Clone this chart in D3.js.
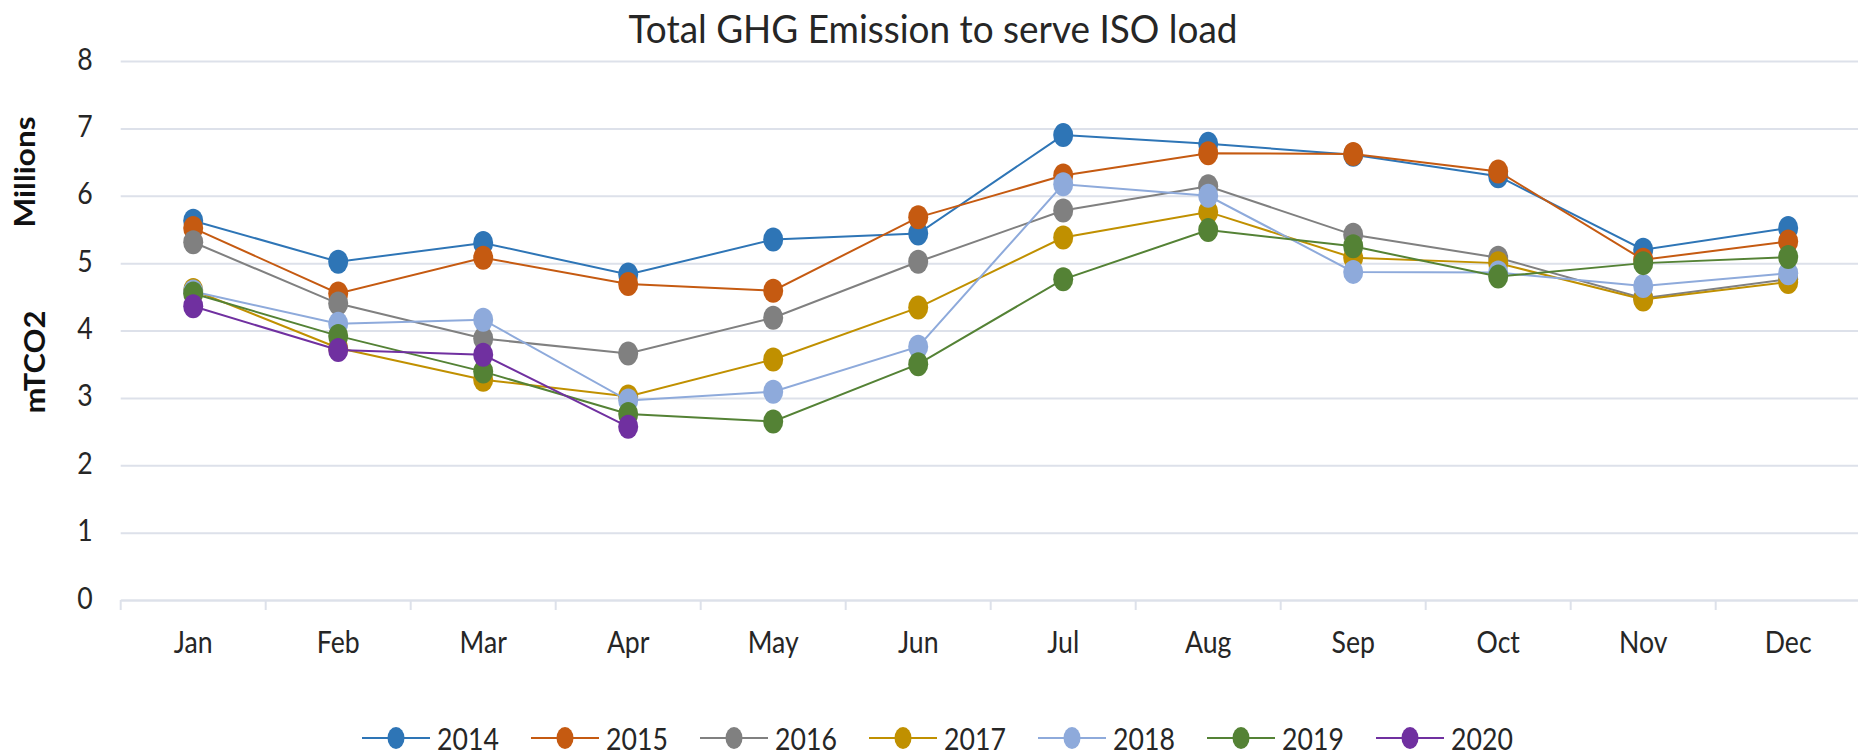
<!DOCTYPE html>
<html>
<head>
<meta charset="utf-8">
<script src="https://cdn.jsdelivr.net/npm/d3@7"></script>
<style>
	body { margin: 0; background: #ffffff; }
	svg { display: block; }
</style>
</head>
<body>
<div id="myLine"></div>
<script>
// color definitions
var bcolor = '#ffffff';
var tcolor = '#262626';
var gridcolor = '#dde1ea';
var font = "Lato";

// data
var months = ['Jan', 'Feb', 'Mar', 'Apr', 'May', 'Jun', 'Jul', 'Aug', 'Sep', 'Oct', 'Nov', 'Dec'];
var years = ['2014', '2015', '2016', '2017', '2018', '2019', '2020'];
var yearColors = ['#2e75b6', '#c55a11', '#808080', '#c09000', '#8eaadb', '#548235', '#7030a0'];
var yTicks = [0, 1, 2, 3, 4, 5, 6, 7, 8];

var e2014 = [5.63, 5.02, 5.30, 4.83, 5.35, 5.44, 6.90, 6.77, 6.61, 6.29, 5.20, 5.52];
var e2015 = [5.52, 4.55, 5.08, 4.69, 4.59, 5.68, 6.30, 6.63, 6.62, 6.36, 5.05, 5.32];
var e2016 = [5.31, 4.40, 3.88, 3.66, 4.19, 5.02, 5.78, 6.14, 5.42, 5.08, 4.48, 4.76];
var e2017 = [4.60, 3.74, 3.27, 3.02, 3.57, 4.34, 5.38, 5.76, 5.08, 5.00, 4.46, 4.72];
var e2018 = [4.58, 4.10, 4.16, 2.96, 3.09, 3.76, 6.17, 6.00, 4.87, 4.86, 4.66, 4.85];
var e2019 = [4.55, 3.92, 3.39, 2.76, 2.65, 3.50, 4.76, 5.49, 5.25, 4.80, 5.00, 5.09];
var e2020 = [4.36, 3.71, 3.64, 2.57];

var seriesValues = [e2014, e2015, e2016, e2017, e2018, e2019, e2020];

var width = 1858, height = 755;
var squeeze = 'scale(0.86,1)'; // narrow the glyphs a bit, the source font is condensed

function plotLine() {
	var svg = d3.select('#myLine')
		.append('svg')
		.attr('width', width)
		.attr('height', height)
		.style('background', bcolor)
		.style('font-family', font);

	var x = d3.scaleBand()
		.domain(months)
		.range([120.7, 1860.7]);

	var y = d3.scaleLinear()
		.domain([0, 8])
		.range([600, 61]);

	var cx = function(i) { return x(months[i]) + x.bandwidth() / 2; };

	// title
	svg.append('text')
		.attr('x', 933)
		.attr('y', 43)
		.attr('text-anchor', 'middle')
		.attr('fill', tcolor)
		.attr('textLength', 609)
		.attr('lengthAdjust', 'spacingAndGlyphs')
		.style('font-size', '38px')
		.text('Total GHG Emission to serve ISO load');

	// y axis with gridlines
	var yAxis = svg.append('g')
		.attr('transform', 'translate(120.7,0)')
		.call(d3.axisLeft(y)
			.tickValues(yTicks)
			.tickSize(-(1860.7 - 120.7))
			.tickFormat(d3.format('d')));
	yAxis.select('.domain').remove();
	yAxis.selectAll('line')
		.attr('stroke', gridcolor)
		.attr('stroke-width', 2);
	yAxis.selectAll('text')
		.attr('x', 0)
		.attr('dy', 0)
		.attr('transform', 'translate(-28,8) ' + squeeze)
		.attr('fill', tcolor)
		.style('font-family', font)
		.style('font-size', '31px');

	// x axis
	var xAxis = svg.append('g')
		.attr('transform', 'translate(0,600)')
		.call(d3.axisBottom(x).tickSize(0));
	xAxis.select('.domain')
		.attr('stroke', gridcolor)
		.attr('stroke-width', 2);
	xAxis.selectAll('text')
		.attr('y', 0)
		.attr('dy', 0)
		.attr('transform', 'translate(0,53) ' + squeeze)
		.attr('fill', tcolor)
		.style('font-family', font)
		.style('font-size', '31px');
	// tick marks sit between the categories
	xAxis.selectAll('.between')
		.data(months)
		.enter().append('line')
		.attr('class', 'between')
		.attr('x1', function(d) { return x(d); })
		.attr('x2', function(d) { return x(d); })
		.attr('y1', 0)
		.attr('y2', 10)
		.attr('stroke', gridcolor)
		.attr('stroke-width', 2);

	// axis titles
	svg.append('text')
		.attr('transform', 'translate(35,172) rotate(-90)')
		.attr('text-anchor', 'middle')
		.attr('fill', '#111')
		.attr('textLength', 111)
		.attr('lengthAdjust', 'spacingAndGlyphs')
		.style('font-size', '28px')
		.style('font-weight', 'bold')
		.text('Millions');
	svg.append('text')
		.attr('transform', 'translate(45,362) rotate(-90)')
		.attr('text-anchor', 'middle')
		.attr('fill', '#111')
		.attr('textLength', 103)
		.attr('lengthAdjust', 'spacingAndGlyphs')
		.style('font-size', '28px')
		.style('font-weight', 'bold')
		.text('mTCO2');

	// series, later years drawn on top
	var line = d3.line()
		.x(function(d, i) { return cx(i); })
		.y(function(d) { return y(d); });

	seriesValues.forEach(function(vals, k) {
		var g = svg.append('g').attr('class', 'series');
		g.append('path')
			.datum(vals)
			.attr('d', line)
			.attr('fill', 'none')
			.attr('stroke', yearColors[k])
			.attr('stroke-width', 2);
		g.selectAll('ellipse')
			.data(vals)
			.enter().append('ellipse')
			.attr('cx', function(d, i) { return cx(i); })
			.attr('cy', function(d) { return y(d); })
			.attr('rx', 10)
			.attr('ry', 12)
			.attr('fill', yearColors[k]);
	});

	// legend
	var legend = svg.append('g')
		.attr('transform', 'translate(362,738)');
	var item = legend.selectAll('.item')
		.data(years)
		.enter().append('g')
		.attr('class', 'item')
		.attr('transform', function(d, i) { return 'translate(' + (i * 169) + ',0)'; });
	item.append('line')
		.attr('x1', 0)
		.attr('x2', 68)
		.attr('stroke', function(d, i) { return yearColors[i]; })
		.attr('stroke-width', 2);
	item.append('ellipse')
		.attr('cx', 34)
		.attr('rx', 8.5)
		.attr('ry', 11)
		.attr('fill', function(d, i) { return yearColors[i]; });
	item.append('text')
		.attr('transform', 'translate(75,12) ' + squeeze)
		.attr('fill', tcolor)
		.style('font-size', '31px')
		.text(function(d) { return d; });
}

function init() {
	plotLine();
}

document.addEventListener('DOMContentLoaded', init, false);
</script>
</body>
</html>
